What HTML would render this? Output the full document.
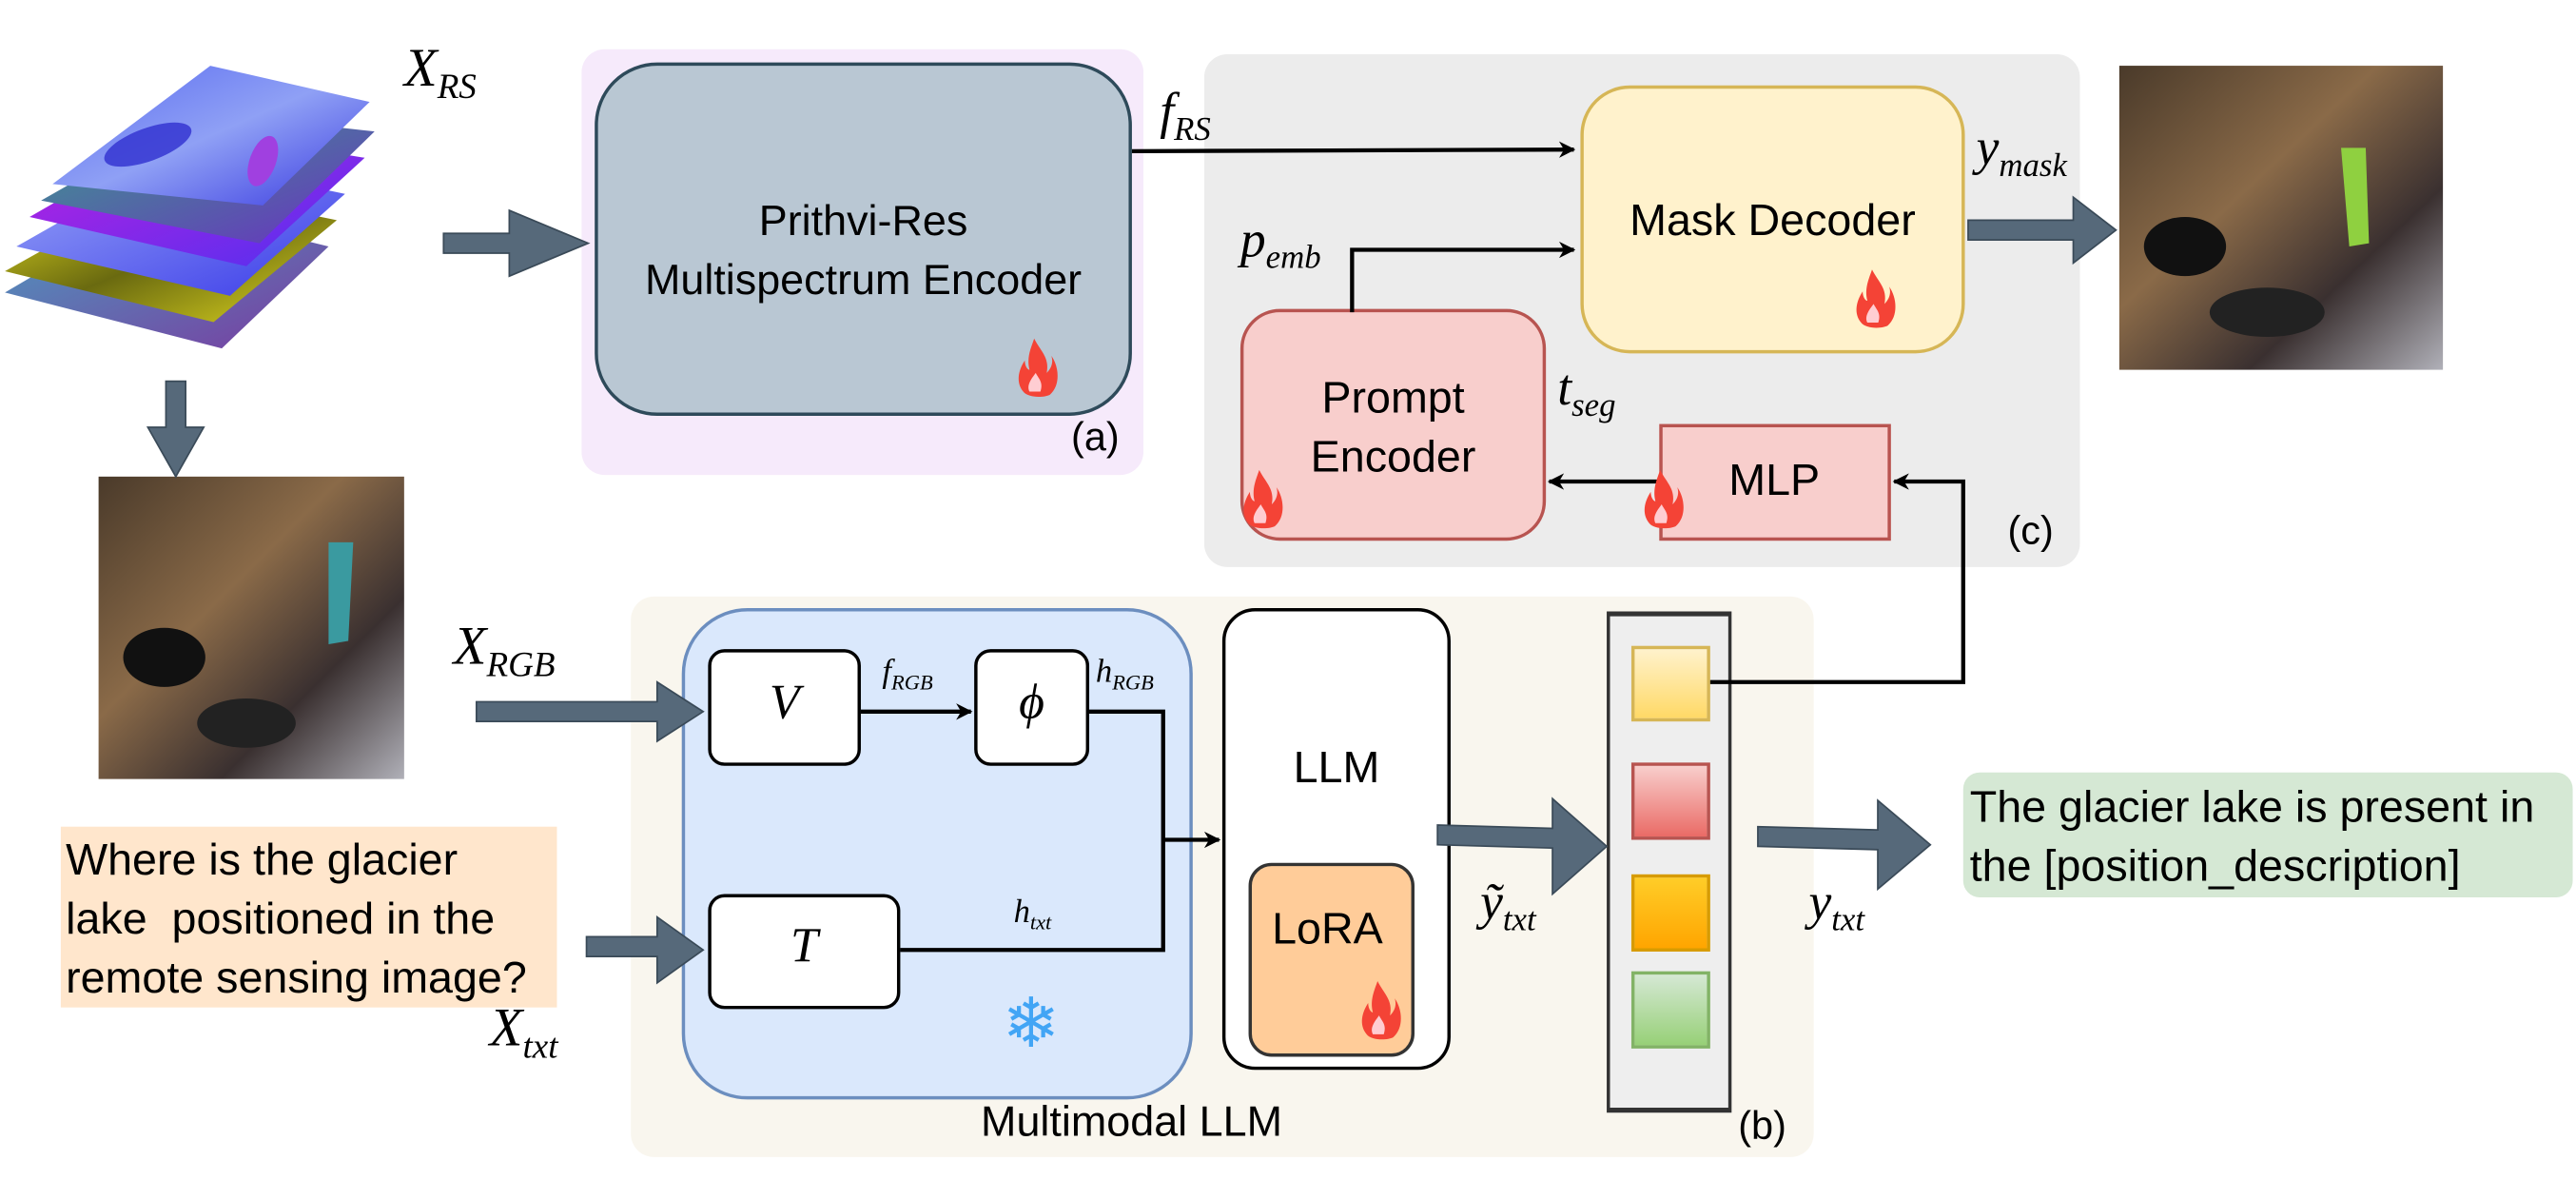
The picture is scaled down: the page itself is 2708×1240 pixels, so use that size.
<!DOCTYPE html>
<html><head><meta charset="utf-8">
<style>
html,body{margin:0;padding:0;background:#fff;}
body{width:2708px;height:1240px;overflow:hidden;position:relative;}
#w{position:absolute;left:0;top:0;width:1568px;height:718px;transform:scale(1.72704);transform-origin:0 0;}
.a{position:absolute;box-sizing:border-box;}
.t{position:absolute;font-family:"Liberation Sans",sans-serif;color:#000;white-space:nowrap;}
.m{position:absolute;font-family:"Liberation Serif",serif;font-style:italic;color:#000;white-space:nowrap;}
.m sub{font-size:65%;vertical-align:-0.35em;}
</style></head><body><div id="w">

<div class="a" style="left:354px;top:30px;width:342px;height:259px;background:#f6eafb;border-radius:14px;"></div>
<div class="a" style="left:733px;top:33px;width:533px;height:312px;background:#ececec;border-radius:14px;"></div>
<div class="a" style="left:384px;top:363px;width:720px;height:341px;background:#f9f6ee;border-radius:14px;"></div>

<div class="a" style="left:362px;top:38px;width:327px;height:215px;background:#b9c7d3;border:2px solid #2e4a5a;border-radius:38px;"></div>
<div class="t" style="left:362px;top:116px;width:327px;text-align:center;font-size:26px;line-height:36px;">Prithvi-Res<br>Multispectrum Encoder</div>
<div class="t" style="left:652px;top:253px;font-size:24px;">(a)</div>

<div class="a" style="left:962px;top:52px;width:234px;height:163px;background:#fff2cc;border:2px solid #d6b656;border-radius:30px;"></div>
<div class="t" style="left:962px;top:119px;width:234px;text-align:center;font-size:27px;">Mask Decoder</div>

<div class="a" style="left:755px;top:188px;width:186px;height:141px;background:#f8cecc;border:2px solid #b85450;border-radius:24px;"></div>
<div class="t" style="left:755px;top:224px;width:186px;text-align:center;font-size:27px;line-height:36px;">Prompt<br>Encoder</div>
<div class="a" style="left:1010px;top:258px;width:141px;height:71px;background:#f8cecc;border:2px solid #b85450;"></div>
<div class="t" style="left:1030px;top:277px;width:100px;text-align:center;font-size:27px;">MLP</div>
<div class="t" style="left:1222px;top:310px;font-size:24px;">(c)</div>

<div class="a" style="left:415px;top:370px;width:311px;height:299px;background:#dae8fc;border:2px solid #6c8ebf;border-radius:40px;"></div>
<div class="a" style="left:431px;top:395px;width:93px;height:71px;background:#fff;border:2.5px solid #000;border-radius:10px;"></div>
<div class="m" style="left:431px;top:411px;width:93px;text-align:center;font-size:30px;">V</div>
<div class="a" style="left:593px;top:395px;width:70px;height:71px;background:#fff;border:2.5px solid #000;border-radius:10px;"></div>
<div class="m" style="left:593px;top:411px;width:70px;text-align:center;font-size:30px;">ϕ</div>
<div class="a" style="left:431px;top:544px;width:117px;height:70px;background:#fff;border:2.5px solid #000;border-radius:10px;"></div>
<div class="m" style="left:431px;top:559px;width:117px;text-align:center;font-size:30px;">T</div>
<div class="t" style="left:610px;top:598px;font-size:42px;color:#42a5f5;">❄</div>

<div class="a" style="left:744px;top:370px;width:139px;height:281px;background:#fff;border:2.5px solid #000;border-radius:20px;"></div>
<div class="t" style="left:744px;top:452px;width:139px;text-align:center;font-size:27px;">LLM</div>
<div class="a" style="left:760px;top:525px;width:101px;height:118px;background:#ffcc99;border:2px solid #333;border-radius:14px;"></div>
<div class="t" style="left:760px;top:550px;width:96px;text-align:center;font-size:27px;">LoRA</div>

<div class="a" style="left:978px;top:372px;width:76px;height:305px;background:#eeeeee;border:2px solid #333;border-top-width:3px;border-bottom-width:3px;"></div>
<div class="a" style="left:993px;top:393px;width:48px;height:46px;background:linear-gradient(#fff2cc,#ffd966);border:2px solid #d6b656;"></div>
<div class="a" style="left:993px;top:464px;width:48px;height:47px;background:linear-gradient(#f8cecc,#ea6b66);border:2px solid #b85450;"></div>
<div class="a" style="left:993px;top:532px;width:48px;height:47px;background:linear-gradient(#ffcd28,#ffa500);border:2px solid #d79b00;"></div>
<div class="a" style="left:993px;top:591px;width:48px;height:47px;background:linear-gradient(#d5e8d4,#97d077);border:2px solid #82b366;"></div>

<div class="t" style="left:597px;top:667px;font-size:26px;">Multimodal LLM</div>
<div class="t" style="left:1058px;top:672px;font-size:24px;">(b)</div>

<div class="a" style="left:37px;top:503px;width:302px;height:110px;background:#ffe6cc;"></div>
<div class="t" style="left:40px;top:505px;font-size:27px;line-height:36px;">Where is the glacier<br>lake&nbsp; positioned in the<br>remote sensing image?</div>
<div class="a" style="left:1195px;top:470px;width:371px;height:76px;background:#d5e8d4;border-radius:10px;"></div>
<div class="t" style="left:1199px;top:473px;font-size:27px;line-height:36px;">The glacier lake is present in<br>the [position_description]</div>

<div class="m" style="left:246px;top:24px;font-size:33px;">X<sub>RS</sub></div>
<div class="m" style="left:706px;top:50px;font-size:31px;">f<sub>RS</sub></div>
<div class="m" style="left:755px;top:128px;font-size:31px;">p<sub>emb</sub></div>
<div class="m" style="left:948px;top:218px;font-size:31px;">t<sub>seg</sub></div>
<div class="m" style="left:1203px;top:72px;font-size:31px;">y<sub>mask</sub></div>
<div class="m" style="left:276px;top:376px;font-size:33px;">X<sub>RGB</sub></div>
<div class="m" style="left:537px;top:398px;font-size:20px;">f<sub>RGB</sub></div>
<div class="m" style="left:667px;top:398px;font-size:20px;">h<sub>RGB</sub></div>
<div class="m" style="left:617px;top:544px;font-size:20px;">h<sub>txt</sub></div>
<div class="m" style="left:298px;top:608px;font-size:33px;">X<sub>txt</sub></div>
<div class="m" style="left:901px;top:531px;font-size:31px;">ỹ<sub>txt</sub></div>
<div class="m" style="left:1101px;top:531px;font-size:31px;">y<sub>txt</sub></div>

<svg class="a" style="left:0;top:0" width="1568" height="718" viewBox="0 0 1568 718">
<defs>
<marker id="ar" markerWidth="10" markerHeight="10" refX="9" refY="5" orient="auto" markerUnits="userSpaceOnUse"><path d="M0,0 L10,5 L0,10 L3,5 Z" fill="#000"/></marker>
<linearGradient id="l1" x1="0" y1="0" x2="1" y2="1"><stop offset="0" stop-color="#5a6cf0"/><stop offset=".5" stop-color="#8fa0f5"/><stop offset="1" stop-color="#3a3ae0"/></linearGradient>
<linearGradient id="l2" x1="0" y1="0" x2="1" y2="1"><stop offset="0" stop-color="#3aa08a"/><stop offset="1" stop-color="#6a30c0"/></linearGradient>
<linearGradient id="l3" x1="0" y1="0" x2="1" y2="1"><stop offset="0" stop-color="#c020e0"/><stop offset="1" stop-color="#5030f0"/></linearGradient>
<linearGradient id="l4" x1="0" y1="0" x2="1" y2="1"><stop offset="0" stop-color="#9aa8f8"/><stop offset="1" stop-color="#3a3ae8"/></linearGradient>
<linearGradient id="l5" x1="0" y1="0" x2="1" y2="1"><stop offset="0" stop-color="#e8e020"/><stop offset=".5" stop-color="#6a6a10"/><stop offset="1" stop-color="#e0d820"/></linearGradient>
<linearGradient id="l6" x1="0" y1="0" x2="1" y2="1"><stop offset="0" stop-color="#4aa0c0"/><stop offset="1" stop-color="#7a3aa0"/></linearGradient>
<linearGradient id="img" x1="0" y1="0" x2="1" y2="1"><stop offset="0" stop-color="#4a3a2a"/><stop offset=".4" stop-color="#8a6a48"/><stop offset=".7" stop-color="#3a3030"/><stop offset="1" stop-color="#b0b0b8"/></linearGradient>
<g id="fire"><path d="M10,0 C14,8 20,12 18,22 C22,18 22,14 21,11 C26,18 27,30 20,36 C16,38 6,38 3,34 C-2,28 0,20 4,14 C4,18 6,20 7,20 C5,12 8,6 10,0 Z" fill="#f44336"/><path d="M11,22 C13,26 16,28 14,34 L7,34 C5,30 8,26 11,22 Z" fill="#ffcdd2"/></g>
</defs>
<polygon points="3,178 95,124 200,150 135,212" fill="url(#l6)"/>
<polygon points="3,165 98,112 205,134 130,196" fill="url(#l5)"/>
<polygon points="10,150 105,96 210,118 140,180" fill="url(#l4)"/>
<polygon points="18,132 112,78 222,96 150,162" fill="url(#l3)"/>
<polygon points="25,122 120,68 228,80 158,148" fill="url(#l2)"/>
<polygon points="32,112 128,40 225,62 160,125" fill="url(#l1)"/>
<ellipse cx="90" cy="88" rx="28" ry="10" fill="#3030d0" opacity=".8" transform="rotate(-20 90 88)"/>
<ellipse cx="160" cy="98" rx="8" ry="16" fill="#a040e0" transform="rotate(20 160 98)"/>
<rect x="60" y="290" width="186" height="184" fill="url(#img)"/>
<path d="M200,330 L215,330 L212,390 L200,392 Z" fill="#3a9aa0"/>
<ellipse cx="100" cy="400" rx="25" ry="18" fill="#111"/>
<ellipse cx="150" cy="440" rx="30" ry="15" fill="#222"/>
<rect x="1290" y="40" width="197" height="185" fill="url(#img)"/>
<path d="M1425,90 L1440,90 L1442,148 L1430,150 Z" fill="#8fd040"/>
<ellipse cx="1330" cy="150" rx="25" ry="18" fill="#111"/>
<ellipse cx="1380" cy="190" rx="35" ry="15" fill="#222"/>
<g fill="#56697a" stroke="#3a4a58" stroke-width="1">
<polygon points="270,142 310,142 310,128 358,148 310,168 310,154 270,154"/>
<polygon points="101,232 113,232 113,260 124,260 107,290 90,260 101,260"/>
<polygon points="1198,134 1262,134 1262,120 1288,140 1262,160 1262,146 1198,146"/>
<polygon points="290,427 400,427 400,415 428,433 400,451 400,439 290,439"/>
<polygon points="357,570 400,570 400,558 428,578 400,598 400,582 357,582"/>
<polygon points="875,502 945,504 945,486 978,515 945,544 945,516 875,514"/>
<polygon points="1070,503 1143,505 1143,487 1175,514 1143,541 1143,517 1070,515"/>
</g>
<g stroke="#000" stroke-width="2.5" fill="none">
<line x1="689" y1="92" x2="958" y2="91" marker-end="url(#ar)"/>
<polyline points="823,190 823,152 958,152" marker-end="url(#ar)"/>
<line x1="1010" y1="293" x2="943" y2="293" marker-end="url(#ar)"/>
<polyline points="1041,415 1195,415 1195,293 1153,293" marker-end="url(#ar)"/>
<line x1="524" y1="433" x2="591" y2="433" marker-end="url(#ar)"/>
<polyline points="663,433 708,433 708,578 548,578"/>
<line x1="708" y1="511" x2="742" y2="511" marker-end="url(#ar)"/>
</g>
<use href="#fire" transform="translate(620,206) scale(0.95)"/>
<use href="#fire" transform="translate(1130,164) scale(0.95)"/>
<use href="#fire" transform="translate(757,286) scale(0.95)"/>
<use href="#fire" transform="translate(1001,286) scale(0.95)"/>
<use href="#fire" transform="translate(829,597) scale(0.95)"/>
</svg>
</div></body></html>
